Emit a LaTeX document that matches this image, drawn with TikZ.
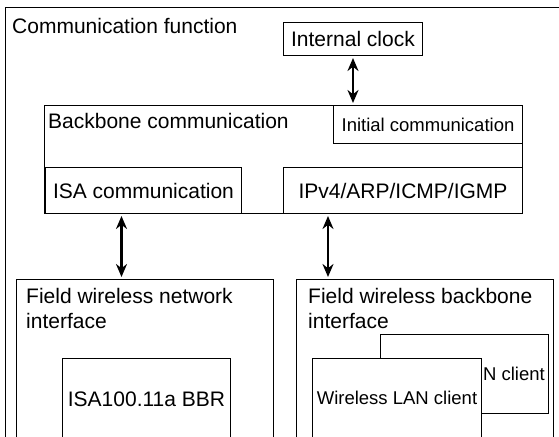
\documentclass[tikz,border=0pt]{standalone}
\usepackage{fontspec}
\setmainfont{Liberation Sans}
\usetikzlibrary{arrows.meta,
	positioning}

\begin{document}
\begin{tikzpicture}[x=1pt,y=-1pt]
    \tikzstyle{box}=[draw,line width=1pt,rectangle,inner sep=0pt,anchor=north west,font=\fontsize{21}{25}\selectfont]
    \tikzstyle{smallbox}=[box,font=\fontsize{18.5}{22}\selectfont]
    \tikzstyle{lbl}=[inner sep=0pt,font=\fontsize{21}{25}\selectfont]
    \tikzstyle{link}=[{Stealth[length=13pt,width=11pt]}-{Stealth[length=13pt,width=11pt]},line width=2.2pt,shorten >=2pt,shorten <=2pt]
    \clip (0,0) rectangle (559,436);
    % outer frame runs off the page
    \node[box,minimum width=600pt,minimum height=460pt] (comm) at (5,7) {};
    \node[lbl,anchor=base west] (commlbl) at ([shift={(7,27)}]comm.north west) {Communication function};
    \node[box,minimum width=139pt,minimum height=33pt] (clock) at (283,22) {Internal clock};
    \node[box,minimum width=478pt,minimum height=108pt] (backbone) at (44,105) {};
    \node[lbl,anchor=base west] (backbonelbl) at ([shift={(4,23)}]backbone.north west) {Backbone communication};
    \node[smallbox,minimum width=189pt,minimum height=38pt] (initial) at (333,105) {Initial communication};
    \node[box,minimum width=196pt,minimum height=46pt] (isa) at (45,167) {ISA communication};
    \node[box,minimum width=239pt,minimum height=46pt] (ipv4) at (283,167) {IPv4/ARP/ICMP/IGMP};
    % interfaces, cut off at the bottom
    \node[box,minimum width=257pt,minimum height=200pt] (fwni) at (16,279) {};
    \node[lbl,anchor=north west,align=left] (fwnilbl) at ([shift={(10,9)}]fwni.north west) {Field wireless network\\interface};
    \node[box,minimum width=168pt,minimum height=82pt] (isabbr) at (62,358) {ISA100.11a BBR};
    \node[box,minimum width=257pt,minimum height=200pt] (fwbi) at (296,279) {};
    \node[lbl,anchor=north west,align=left] (fwbilbl) at ([shift={(12,9)}]fwbi.north west) {Field wireless backbone\\interface};
    \node[smallbox,minimum width=168pt,minimum height=79pt] (wlanback) at (380,334) {};
    \node[inner sep=0pt,font=\fontsize{18.5}{22}\selectfont,anchor=east] (wlanbacklbl) at ([xshift=-4pt]wlanback.east) {N client};
    \node[smallbox,fill=white,minimum width=169pt,minimum height=79pt] (wlanfront) at (312,358) {Wireless LAN client};
    \draw[link] (clock.south) -- (clock.south |- initial.north);
    \draw[link] ([xshift=-22pt]isa.south) -- ([xshift=-22pt]isa.south |- fwni.north);
    \draw[link] ([xshift=-75pt]ipv4.south) -- ([xshift=-75pt]ipv4.south |- fwbi.north);
\end{tikzpicture}
\end{document}
